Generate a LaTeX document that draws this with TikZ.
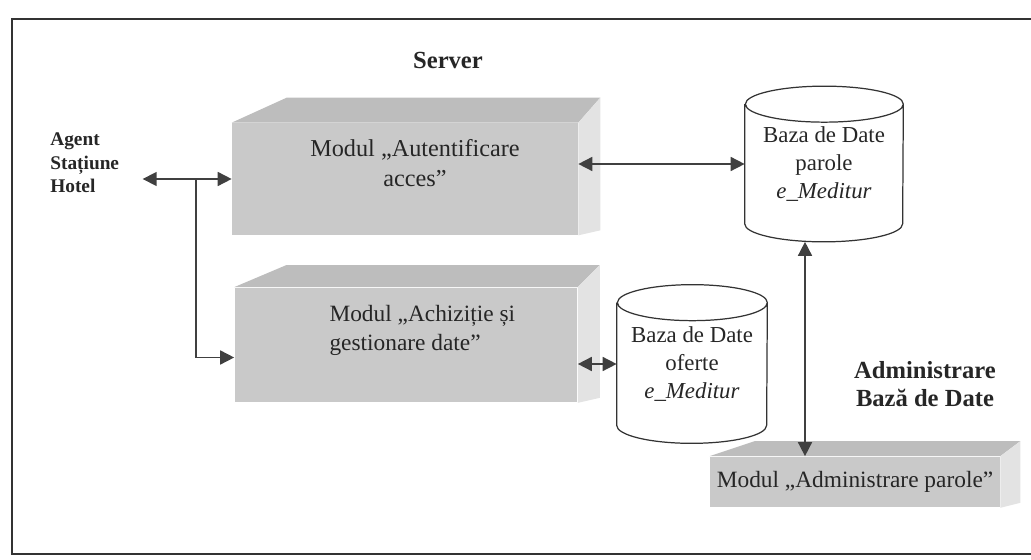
\documentclass[tikz,border=0pt]{standalone}
\usepackage{fontspec}
\setmainfont{Liberation Serif}
\usetikzlibrary{arrows.meta,calc}

\newcommand{\boxfaces}[4]{%
\fill[topface] (#1.north west) -- ++(#2,-#4) -- ($(#1.north east)+(#3,-#4)$) -- (#1.north east) -- cycle;
\fill[sideface] (#1.north east) -- ++(#3,-#4) -- ($(#1.south east)+(#3,-5)$) -- (#1.south east) -- cycle;}
\newcommand{\dbshape}[2]{%
\draw[dbline] ([yshift=-0.36cm]#1.north west) -- ([yshift=0.36cm]#1.south west)
  arc[start angle=180,end angle=360,x radius=#2,y radius=0.36cm]
  -- ([yshift=-0.36cm]#1.north east) arc[start angle=0,end angle=360,x radius=#2,y radius=0.36cm];}

\begin{document}
\begin{tikzpicture}[x=0.02cm,y=-0.02cm,
  modbox/.style={fill=gray!42,inner sep=0pt,font=\fontsize{13.3}{15.5}\selectfont,text=black!85},
  modlbl/.style={inner sep=0pt,text=black!85,font=\fontsize{13.3}{16.5}\selectfont},
  topface/.style={fill=gray!52},
  sideface/.style={fill=gray!22},
  dbnode/.style={inner sep=0pt,align=center,font=\fontsize{13}{16}\selectfont,text=black!85},
  dbline/.style={draw=black!80,line width=0.7pt},
  conn/.style={draw=black!75,line width=0.9pt,-{Triangle[length=0.28cm,width=0.28cm]}},
  dconn/.style={draw=black!75,line width=0.9pt,{Triangle[length=0.28cm,width=0.28cm]}-{Triangle[length=0.28cm,width=0.28cm]}},
  headlbl/.style={font=\bfseries\fontsize{14}{16}\selectfont,text=black!85,align=center}]
\useasboundingbox (0,0) rectangle (1031,560);
\draw[black!80,line width=0.8pt] (1031,19) -- (12,19) -- (12,554) -- (1031,554);

\node[headlbl] (server) at (448,60) {Server};
\node[headlbl] (admTitle) at (925,384) {Administrare\\Bază de Date};
\node[anchor=west,inner sep=0pt,text width=1.84cm,align=left,text=black!85,
  font=\bfseries\fontsize{11}{13.4}\selectfont] (agent) at (50,163) {Agent\\Stațiune\\Hotel};

\node[modbox,minimum width=6.92cm,minimum height=2.24cm,
  label={[modlbl,align=center,xshift=0.2cm,yshift=0.32cm,font=\fontsize{13.8}{17.5}\selectfont]center:{Modul „Autentificare\\acces”}}]
  (modAut) at (405,179) {};
\boxfaces{modAut}{55}{22}{25}
\node[modbox,minimum width=6.86cm,minimum height=2.3cm,
  label={[modlbl,align=left,anchor=west,xshift=1.9cm,yshift=0.3cm]west:{Modul „Achiziție și\\gestionare date”}}]
  (modAch) at (406,345) {};
\boxfaces{modAch}{52}{22}{22}
\node[modbox,minimum width=5.8cm,minimum height=1.02cm] (modAdm) at (855,482)
  {Modul „Administrare parole”};
\boxfaces{modAdm}{45}{20}{15}

\node[dbnode,minimum width=3.16cm,minimum height=3.1cm] (db1) at (824,164)
  {Baza de Date\\parole\\\textit{e\_Meditur}};
\dbshape{db1}{1.58cm}
\node[dbnode,minimum width=3.0cm,minimum height=3.16cm] (db2) at (692,364)
  {Baza de Date\\oferte\\\textit{e\_Meditur}};
\dbshape{db2}{1.5cm}

\coordinate (junc) at ($(agent.east |- modAut.west)!0.6!(modAut.west)$);
\draw[dconn] (agent.east |- modAut.west) -- (modAut.west);
\draw[conn] (junc) |- ([yshift=-0.25cm]modAch.west);
\draw[dconn] (modAut.east |- db1.west) -- (db1.west);
\draw[dconn] (modAch.east |- db2.west) -- (db2.west);
\draw[dconn] ([xshift=-0.38cm]db1.south) -- ([xshift=-0.38cm]db1.south |- modAdm.north);
\end{tikzpicture}
\end{document}
